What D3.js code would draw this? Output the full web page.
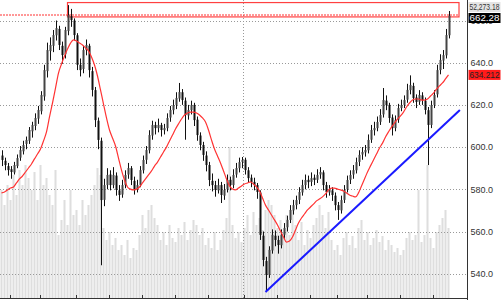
<!DOCTYPE html>
<html>
<head>
<meta charset="utf-8">
<script src="https://cdn.jsdelivr.net/npm/d3@7/dist/d3.min.js"></script>
<style>
  body { margin: 0; background: #fff; }
  svg { display: block; font-family: "Liberation Sans", Arial, sans-serif; }
</style>
</head>
<body>
<svg id="chart" width="501" height="300"></svg>
<script>
// Daily bars (oldest first)
const opens = [596.0,593.5,591.0,589.5,588.0,591.0,595.0,598.0,601.5,603.0,607.5,610.0,613.5,617.0,624.0,636.0,645.5,648.0,653.0,656.0,
  648.0,644.0,655.0,662.0,660.0,653.0,639.0,637.0,646.0,648.0,636.0,627.0,612.5,603.0,575.0,582.0,587.0,582.0,586.5,579.5,
  577.5,582.0,587.0,590.0,584.0,580.0,582.0,589.0,594.0,598.5,605.5,610.5,609.0,610.5,608.0,609.0,614.0,617.5,620.0,623.0,
  626.0,622.0,615.0,617.5,620.0,613.0,605.5,601.0,596.0,591.5,584.0,582.0,579.5,582.0,577.0,580.0,584.5,582.0,587.0,590.0,
  593.0,594.0,589.0,585.5,583.5,582.0,578.5,558.0,546.0,539.5,551.0,558.0,556.0,553.5,558.5,562.0,565.5,570.0,572.5,575.0,
  578.5,582.0,584.5,583.5,585.5,584.5,587.0,588.0,582.0,578.5,579.5,577.0,572.5,570.0,575.0,580.0,584.5,587.0,589.0,593.0,
  596.5,597.5,598.5,603.5,608.0,609.0,612.0,615.5,622.0,620.0,614.0,609.0,613.0,618.5,620.0,622.5,627.0,629.0,623.5,621.5,
  624.5,622.0,617.5,610.5,620.0,625.0,636.5,641.0,643.5,653.0];
const highs = [598.5,595.0,592.5,591.0,593.0,596.5,600.5,603.0,605.0,609.5,612.0,616.0,619.5,626.5,639.0,649.5,652.0,655.5,660.0,657.5,
  650.0,657.0,667.3,665.5,661.0,654.0,642.0,648.0,651.0,649.0,638.0,628.5,614.0,604.5,585.0,590.0,589.0,590.5,588.0,582.0,
  584.5,589.0,592.5,591.0,586.0,584.5,591.0,596.0,600.5,608.0,612.5,612.0,613.5,611.5,611.0,616.0,619.5,622.5,626.0,630.4,
  627.5,623.5,620.0,622.0,621.0,614.5,607.0,602.5,598.0,593.0,587.5,584.0,585.0,583.5,582.5,587.0,586.0,589.5,592.5,595.0,
  595.3,595.0,590.5,587.0,585.5,583.0,579.5,560.0,548.0,553.0,561.0,560.5,558.0,561.0,564.0,567.5,572.5,575.0,577.0,581.0,
  584.5,587.0,586.5,588.0,587.0,589.5,590.5,589.0,583.5,582.0,581.0,578.5,574.0,577.0,582.0,586.5,589.0,591.5,595.0,598.5,
  600.0,601.0,606.0,610.5,612.0,614.5,618.0,628.0,624.5,621.0,615.5,615.0,620.5,622.5,624.5,630.0,634.0,630.5,625.0,627.0,
  626.0,623.5,619.0,622.0,627.0,639.0,644.0,646.0,656.0,664.5];
const lows = [591.0,589.0,586.5,585.0,587.0,590.0,593.5,596.5,599.0,601.5,604.5,608.0,611.0,615.5,622.0,633.0,641.0,645.0,650.5,646.0,
  639.5,642.0,653.0,657.0,650.5,636.5,633.5,635.0,643.5,633.0,624.0,609.5,599.0,544.0,572.0,580.0,579.5,580.5,577.0,574.5,
  576.0,580.5,585.0,582.0,577.5,578.5,581.0,587.5,592.0,597.0,603.5,606.0,607.0,605.0,606.0,607.5,612.0,615.5,618.0,621.5,
  620.0,603.5,613.0,615.5,610.0,603.0,598.5,593.5,588.5,581.5,579.0,576.5,578.0,573.5,575.0,578.5,579.5,580.5,585.5,588.0,
  590.0,587.0,583.0,581.0,579.5,575.5,556.0,543.5,531.3,538.0,549.5,553.0,549.5,552.0,556.5,560.0,564.0,568.0,570.5,573.0,
  577.0,580.0,580.5,581.5,582.0,583.0,585.0,579.5,576.0,577.0,574.5,570.0,565.5,568.5,573.5,578.5,582.5,585.0,587.5,591.0,
  594.0,595.5,597.0,602.0,605.5,607.5,610.5,614.0,617.5,611.5,605.5,607.5,611.5,617.0,618.5,621.0,625.0,621.0,618.5,620.0,
  620.0,615.5,591.5,609.0,618.5,623.5,634.5,637.0,642.0,651.5];
const closes = [593.9,591.5,589.1,588.2,591.5,594.8,598.6,601.0,603.4,608.1,610.5,613.8,617.6,624.7,636.5,646.0,648.4,653.1,656.4,648.4,
  643.6,655.5,662.6,660.2,653.1,639.0,636.5,646.0,648.4,636.5,627.1,612.8,603.4,574.9,582.0,586.8,582.0,586.8,579.7,577.3,
  582.0,586.8,590.1,584.4,579.7,582.0,589.1,593.9,598.6,605.7,610.5,609.0,610.5,608.1,609.0,613.8,617.6,619.9,623.3,626.1,
  622.3,615.2,617.6,619.9,612.8,605.7,601.0,596.3,591.5,584.4,582.0,579.7,582.0,577.3,579.7,584.4,582.0,586.8,590.1,592.9,
  593.9,589.1,585.3,583.4,582.0,578.7,558.4,546.5,539.4,551.3,558.4,556.0,553.6,558.4,561.7,565.5,570.2,572.5,574.9,578.7,
  582.0,584.4,583.4,585.3,584.4,586.8,588.2,582.0,578.7,579.7,577.3,572.5,570.2,574.9,579.7,584.4,586.8,589.1,592.9,596.3,
  597.7,598.6,603.4,608.1,609.0,611.9,615.2,622.3,619.9,613.8,609.0,612.8,618.5,619.9,622.3,627.1,629.4,623.3,621.4,624.7,
  622.3,617.6,610.5,619.9,624.7,636.5,641.3,643.6,653.1,662.28];
// Volume in thousands
const volumes = [1080,930,1130,980,1230,1030,1280,1130,1330,1200,1080,1260,980,1330,1130,1200,1030,930,1280,630,
  780,980,730,1080,830,880,730,980,830,930,1030,1130,1300,1230,700,580,660,530,600,480,
  530,430,580,400,500,480,630,830,700,880,930,800,730,580,660,530,730,600,560,700,
  630,760,580,680,780,730,630,700,530,600,500,660,480,580,680,800,1510,730,600,660,
  560,700,830,630,860,730,800,680,880,980,930,830,700,780,660,830,630,880,730,580,
  760,530,680,600,730,800,930,830,700,860,580,480,530,430,600,660,530,620,500,700,
  780,580,660,530,600,680,560,620,480,580,530,460,500,430,480,600,660,580,630,1080,
  560,630,1330,600,500,660,730,800,880,700];
// Moving average (red line) as drawn
const movingAvg = [578.3,578.7,579.7,580.6,581.1,583.0,584.9,586.3,588.2,590.1,592.0,594.4,596.7,599.1,602.9,607.2,614.3,620.9,628.0,635.1,
  639.4,643.2,646.5,649.3,650.8,650.3,649.3,648.4,647.0,645.6,642.7,638.9,633.7,627.1,620.4,613.8,608.1,604.3,600.5,594.8,
  589.1,584.4,581.1,580.1,579.7,580.1,581.1,583.0,584.9,586.8,588.7,591.0,592.9,595.3,597.7,600.0,602.9,605.7,608.6,611.0,
  613.3,615.2,616.2,616.6,616.6,616.2,615.2,613.8,611.9,608.1,603.4,599.1,595.8,592.5,588.7,584.9,581.6,580.1,579.7,580.6,
  581.6,582.5,583.0,583.5,582.5,581.1,579.2,575.9,572.5,570.2,567.8,565.5,563.1,560.2,557.4,555.0,555.5,557.4,560.7,564.0,
  566.4,568.3,570.2,571.6,573.0,574.5,575.4,576.4,577.8,579.7,580.6,580.6,580.1,579.7,579.2,578.3,577.3,576.8,576.4,578.3,
  581.6,584.9,588.2,591.1,593.9,596.7,599.6,601.9,604.8,607.2,609.5,611.4,613.3,614.8,616.6,619.0,620.9,622.3,622.8,622.8,
  622.3,622.3,622.8,624.2,625.6,627.5,629.0,630.4,632.3,634.21];

const priceTicks = [540, 560, 580, 600, 620, 640, 660];
const dateTickIdx = [3, 13, 25, 36, 47, 58, 69, 81, 92, 103, 112, 122, 133, 144];
const yearBreakIdx = 81;
// Annotations: resistance zone from the top, and the support trend line
const zoneStartIdx = 22, zoneEndIdx = 152.5, zoneTop = 668.5, zoneBottom = 661.7;
const resistLevel = 662.6;
const trendFrom = [88, 531.3], trendTo = [152.8, 617.6];
const indexValue = "52,273.18";
const lastLabel = "662.28", maLabel = "634.212";

const W = 501, H = 300;
const plotRight = 467.5;
const bottom = 298;
const nSlots = 155;

const svg = d3.select('#chart');

const x = d3.scaleBand().domain(d3.range(nSlots)).range([0, nSlots * 3]).padding(0);
const xc = i => x(0) + (i + 0.5) * x.step();
const y = d3.scaleLinear().domain([540, 660]).range([273.7, 20.5]);
const yVol = d3.scaleLinear().domain([0, 1500]).range([bottom, 148]);

// Volume in the background
svg.append('g').selectAll('rect').data(volumes).join('rect')
  .attr('x', (d, i) => x(i) + 0.5)
  .attr('width', 2)
  .attr('y', d => yVol(d))
  .attr('height', d => bottom - yVol(d))
  .attr('fill', '#dedede');

// Dotted grid
svg.append('g').selectAll('line').data(priceTicks).join('line')
  .attr('x1', 0).attr('x2', plotRight)
  .attr('y1', d => Math.round(y(d)) + 0.5).attr('y2', d => Math.round(y(d)) + 0.5)
  .attr('stroke', '#999').attr('stroke-dasharray', '1,2');
svg.append('line')
  .attr('x1', Math.round(x(yearBreakIdx)) + 0.5).attr('x2', Math.round(x(yearBreakIdx)) + 0.5)
  .attr('y1', 0).attr('y2', bottom)
  .attr('stroke', '#999').attr('stroke-dasharray', '1,2');

// Resistance zone + dotted level
svg.append('line')
  .attr('x1', 0).attr('x2', xc(zoneEndIdx))
  .attr('y1', y(resistLevel)).attr('y2', y(resistLevel))
  .attr('stroke', '#ff3030').attr('stroke-dasharray', '2,1');
svg.append('rect')
  .attr('x', xc(zoneStartIdx)).attr('y', y(zoneTop))
  .attr('width', xc(zoneEndIdx) - xc(zoneStartIdx))
  .attr('height', y(zoneBottom) - y(zoneTop))
  .attr('fill', 'none').attr('stroke', '#ff4040').attr('stroke-width', 1.2);

// Candles
const idx = d3.range(closes.length);
const candles = svg.append('g');
candles.selectAll('line').data(idx).join('line')
  .attr('x1', i => Math.round(xc(i)) + 0.5).attr('x2', i => Math.round(xc(i)) + 0.5)
  .attr('y1', i => y(highs[i])).attr('y2', i => y(lows[i]))
  .attr('stroke', '#111');
candles.selectAll('rect').data(idx).join('rect')
  .attr('x', i => Math.round(xc(i)) - 0.5)
  .attr('width', 2)
  .attr('y', i => y(Math.max(opens[i], closes[i])))
  .attr('height', i => Math.max(1, Math.abs(y(opens[i]) - y(closes[i]))))
  .attr('fill', i => closes[i] >= opens[i] ? '#444' : '#111');

// Moving average
svg.append('path')
  .datum(movingAvg)
  .attr('d', d3.line().x((d, i) => xc(i)).y(d => y(d)).curve(d3.curveMonotoneX))
  .attr('fill', 'none').attr('stroke', '#ff3333').attr('stroke-width', 1.2);

// Trend line
svg.append('line')
  .attr('x1', xc(trendFrom[0])).attr('y1', y(trendFrom[1]))
  .attr('x2', xc(trendTo[0])).attr('y2', y(trendTo[1]))
  .attr('stroke', '#1a1aff').attr('stroke-width', 2);

// Frame: right price axis line and bottom date axis
svg.append('line')
  .attr('x1', plotRight).attr('x2', plotRight).attr('y1', 0).attr('y2', H)
  .attr('stroke', '#333');
const xAxis = svg.append('g')
  .attr('transform', `translate(0, ${bottom})`)
  .call(d3.axisTop(x).tickValues(dateTickIdx).tickSize(3).tickSizeOuter(0).tickFormat(''));
xAxis.select('.domain').attr('stroke', '#333').attr('d', `M0,0.5H${plotRight}`);
xAxis.selectAll('.tick line').attr('stroke', '#333');

const yAxis = svg.append('g')
  .attr('transform', `translate(${plotRight + 2}, 0)`)
  .call(d3.axisRight(y).tickValues(priceTicks).tickSize(0).tickFormat(d3.format('.1f')));
yAxis.select('.domain').remove();
yAxis.selectAll('text').attr('x', 1).attr('font-size', 9).attr('fill', '#333').attr('font-family', '"Liberation Sans", Arial, sans-serif');

// Value flags on the right, squeezed to the flag width
function flag(yMid, text, bg, fg) {
  svg.append('rect').attr('x', plotRight + 1).attr('y', yMid - 5).attr('width', 32).attr('height', 10).attr('fill', bg);
  svg.append('text').attr('x', plotRight + 2).attr('y', yMid + 3)
    .attr('font-size', 8.5).attr('fill', fg)
    .attr('textLength', 30).attr('lengthAdjust', 'spacingAndGlyphs')
    .text(text);
}
flag(7, indexValue, '#e4e4e4', '#333');
flag(Math.max(y(closes[closes.length - 1]), 18), lastLabel, '#000', '#fff');
flag(y(movingAvg[movingAvg.length - 1]), maLabel, '#ff1a1a', '#222');
</script>
</body>
</html>
